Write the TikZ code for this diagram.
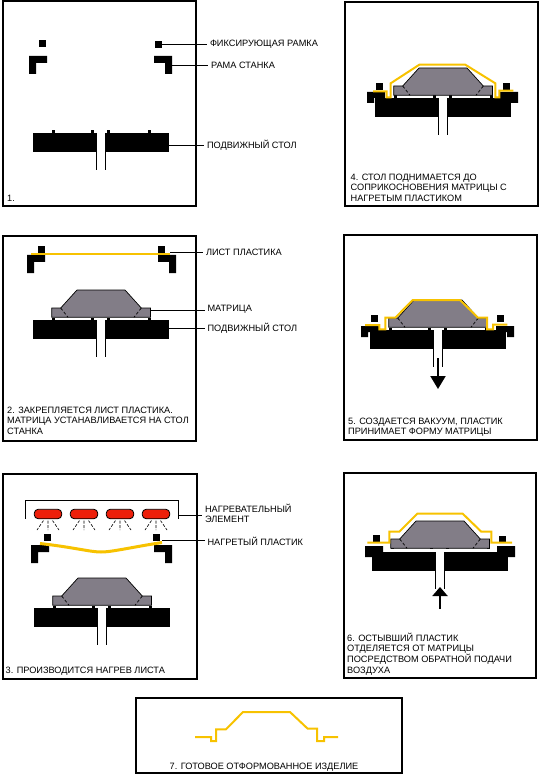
\documentclass[tikz,border=0pt]{standalone}
\usepackage{fontspec}
\setmainfont{Liberation Sans}
\usetikzlibrary{arrows.meta,positioning}
\definecolor{plasticyellow}{rgb}{0.97,0.76,0.00}
\definecolor{mouldgrey}{rgb}{0.51,0.49,0.53}
\definecolor{heatred}{rgb}{0.93,0.12,0.04}

\begin{document}
\begin{tikzpicture}[x=1pt,y=-1pt,font=\fontsize{9.2}{10.7}\selectfont,
   panel/.style={draw,line width=2pt},
   lead/.style={draw,line width=0.8pt},
   clamp/.style={fill=black,inner sep=0pt,minimum size=7pt},
   tag/.style={anchor=west,inner sep=0pt,outer sep=3pt,align=left},
   note/.style={anchor=north west,inner sep=0pt,align=left},
   plastic/.style={draw=plasticyellow,line width=2pt},
   heater/.style={draw,fill=heatred,line width=0.8pt,rounded corners=4pt,
                  minimum width=27.5pt,minimum height=9.5pt,inner sep=0pt},
   tablepart/.pic={
     \fill (-68,0) rectangle (-4,19);
     \fill (4,0) rectangle (68,19);
     \draw[line width=0.8pt] (-4.5,0) -- (-4.5,37) (4.5,0) -- (4.5,37);},
   lugs/.pic={
     \foreach \lx in {-49,-10,6,47} \fill (\lx,-2.5) rectangle ++(3,2.5);},
   mouldpart/.pic={
     \draw[fill=mouldgrey,line width=0.7pt] (-49.3,-2.7) -- (-49.3,-12) -- (-40.3,-12)
        -- (-24,-30) -- (24,-30) -- (40.3,-12) -- (49.5,-12) -- (49.5,-2.7) -- cycle;
     \draw[densely dashed,line width=0.7pt] (-40.3,-12) -- (-33,-2.7) (40.3,-12) -- (33,-2.7);},
   ramabig/.pic={
     \fill (0,0) -- (18,0) -- (18,7) -- (7,7) -- (7,18) -- (0,18) -- cycle;},
   ramasmall/.pic={
     \fill (0,0) -- (18,0) -- (18,6) -- (7,6) -- (7,11) -- (0,11) -- cycle;}]
  \useasboundingbox (0,0) rectangle (546,775);

  % 1
  \draw[panel] (3.2,1) rectangle (196,206);
  \node[clamp] (clampA) at (42.5,43.5) {};
  \node[clamp] (clampB) at (158.5,44.5) {};
  \pic at (29,56) {ramabig};
  \pic[xscale=-1] at (172,56) {ramabig};
  \pic at (101,133) {tablepart};
  \pic at (101,133) {lugs};
  \node[tag] (tagClampA) at (207,44.5) {ФИКСИРУЮЩАЯ РАМКА};
  \node[tag] (tagRamaA) at (208,65) {РАМА СТАНКА};
  \node[tag] (tagTableA) at (204,145) {ПОДВИЖНЫЙ СТОЛ};
  \coordinate (ramaA) at (172,65);
  \coordinate (tableA) at (169,145);
  \draw[lead] (clampB.east) -- (clampB.east -| tagClampA.west);
  \draw[lead] (ramaA) -- (ramaA -| tagRamaA.west);
  \draw[lead] (tableA) -- (tableA -| tagTableA.west);
  \node[note] (noteA) at (7,195) {1.};

  % 2
  \draw[panel] (3.2,236) rectangle (196,441);
  \node[clamp] (clampC) at (41.5,249.5) {};
  \node[clamp] (clampD) at (161.5,249.5) {};
  \pic at (27,255) {ramabig};
  \pic[xscale=-1] at (176,255) {ramabig};
  \pic at (101,320) {tablepart};
  \pic at (101,320) {lugs};
  \pic at (101,320) {mouldpart};
  \coordinate (sheetL) at (31,254);
  \coordinate (sheetR) at (170,254);
  \draw[plastic] (sheetL) -- (sheetR);
  \node[tag] (tagSheet) at (203,252.5) {ЛИСТ ПЛАСТИКА};
  \node[tag] (tagMould) at (204.5,309.5) {МАТРИЦА};
  \node[tag] (tagTableB) at (204.5,328) {ПОДВИЖНЫЙ СТОЛ};
  \coordinate (sheetLead) at (170,252.5);
  \coordinate (mouldB) at (150.7,310);
  \coordinate (tableB) at (169,328);
  \draw[lead] (sheetLead) -- (sheetLead -| tagSheet.west);
  \draw[lead] (mouldB) -- (mouldB -| tagMould.west);
  \draw[lead] (tableB) -- (tableB -| tagTableB.west);
  \node[note] (noteB) at (7,406.5) {2. ЗАКРЕПЛЯЕТСЯ ЛИСТ ПЛАСТИКА.\\МАТРИЦА УСТАНАВЛИВАЕТСЯ НА СТОЛ\\СТАНКА};

  % 3
  \draw[panel] (3.2,474) rectangle (197,679);
  \draw[line width=0.8pt] (25.7,518.5) |- (178,500) -- (178,518.5);
  \foreach \hx/\hn in {48/a,84/b,120/c,156/d} {
    \node[heater] (heat\hn) at (\hx,514) {};
    \draw[dashed,dash pattern=on 3pt off 1.5pt,line width=0.6pt]
       (\hx,520.5) -- (\hx,530) (\hx-4.5,520.5) -- (\hx-11,530) (\hx+4.5,520.5) -- (\hx+11,530);
  }
  \node[clamp] (clampE) at (47.5,537.5) {};
  \node[clamp] (clampF) at (156.5,537.5) {};
  \pic at (31,545) {ramabig};
  \pic[xscale=-1] at (172,545) {ramabig};
  \coordinate (hotL) at (40,543.5);
  \coordinate (hotR) at (162,542.5);
  \draw[plastic,line width=3pt] (hotL) .. controls (75,547.5) and (90,552) .. (101,552)
     .. controls (112,552) and (130,547.5) .. (hotR);
  \pic at (102,608) {tablepart};
  \pic at (102,608) {lugs};
  \pic at (102,608) {mouldpart};
  \node[tag] (tagHeat) at (202,513.5) {НАГРЕВАТЕЛЬНЫЙ\\ЭЛЕМЕНТ};
  \node[tag] (tagHot) at (204.5,541) {НАГРЕТЫЙ ПЛАСТИК};
  \coordinate (bracketEnd) at (178,515);
  \coordinate (hotLead) at (162,540.7);
  \draw[lead] (bracketEnd) -- (bracketEnd -| tagHeat.west);
  \draw[lead] (hotLead) -- (hotLead -| tagHot.west);
  \node[note] (noteC) at (5.5,666.5) {3. ПРОИЗВОДИТСЯ НАГРЕВ ЛИСТА};

  % 4
  \draw[panel] (345,2) rectangle (538,206);
  \node[clamp] (clampG) at (379.5,86.5) {};
  \node[clamp] (clampH) at (506.5,86.5) {};
  \pic at (443,98) {tablepart};
  \pic at (443,98) {lugs};
  \pic at (443,98) {mouldpart};
  \pic at (367,92) {ramasmall};
  \pic[xscale=-1] at (518,92) {ramasmall};
  \draw[plastic] (373,91.3) -| (386.7,97.3) -| (390.7,83.3) -- (419.3,64.7) -- (465.3,64.7)
     -- (495.3,83.3) |- (499.3,97.3) |- (513.3,90.7);
  \node[note] (noteD) at (350.5,173.5) {4. СТОЛ ПОДНИМАЕТСЯ ДО\\СОПРИКОСНОВЕНИЯ МАТРИЦЫ С\\НАГРЕТЫМ ПЛАСТИКОМ};

  % 5
  \draw[panel] (344,235) rectangle (537,439.5);
  \node[clamp] (clampI) at (374.5,318.5) {};
  \node[clamp] (clampJ) at (500.5,318.5) {};
  \pic at (438,330) {tablepart};
  \pic at (438,330) {lugs};
  \pic at (438,330) {mouldpart};
  \pic at (361,326) {ramasmall};
  \pic[xscale=-1] at (514,326) {ramasmall};
  \draw[plastic] (365,325) -| (379.3,329.3) -| (385.3,317.7) -- (395.3,317.7) -- (412.7,300)
     -- (460,300) -- (478,317.7) -- (487,317.7) |- (493,329.3) |- (507.3,324.7);
  \coordinate (suckS) at (438,358);
  \coordinate (suckE) at (438,389);
  \draw[-{Triangle[length=13pt,width=15pt]},line width=2pt] (suckS) -- (suckE);
  \node[note] (noteE) at (348,417.5) {5. СОЗДАЕТСЯ ВАКУУМ, ПЛАСТИК\\ПРИНИМАЕТ ФОРМУ МАТРИЦЫ};

  % 6
  \draw[panel] (343.5,473) rectangle (536,678);
  \node[clamp] (clampK) at (376.5,538.5) {};
  \node[clamp] (clampL) at (502.5,539.5) {};
  \pic at (440,552) {tablepart};
  \pic at (440,549) {lugs};
  \pic at (440,551) {mouldpart};
  \pic at (365,546) {ramasmall};
  \pic[xscale=-1] at (515,546) {ramasmall};
  \draw[plastic] (367.3,542.7) -| (389.3,531.7) -- (399.3,531.7) -- (417.3,513.7) -- (462.7,513.7)
     -- (481.3,531.7) -- (491.3,531.7) |- (512,542.7);
  \coordinate (blowS) at (440,609);
  \coordinate (blowE) at (440,587);
  \draw[-{Triangle[length=9pt,width=15pt]},line width=2pt] (blowS) -- (blowE);
  \node[note] (noteF) at (347,632.5) {6. ОСТЫВШИЙ ПЛАСТИК\\ОТДЕЛЯЕТСЯ ОТ МАТРИЦЫ\\ПОСРЕДСТВОМ ОБРАТНОЙ ПОДАЧИ\\ВОЗДУХА};

  % 7
  \draw[panel] (135.5,698) rectangle (401.5,773);
  \draw[plastic] (195,737) -| (211,741) -| (216,729.3) -- (226,729.3) -- (243,712) -- (290,712)
     -- (307.7,728.7) -- (317,728.7) |- (324,741) |- (338,737);
  \node[note] (noteG) at (169.5,762.5) {7. ГОТОВОЕ ОТФОРМОВАННОЕ ИЗДЕЛИЕ};
\end{tikzpicture}
\end{document}
